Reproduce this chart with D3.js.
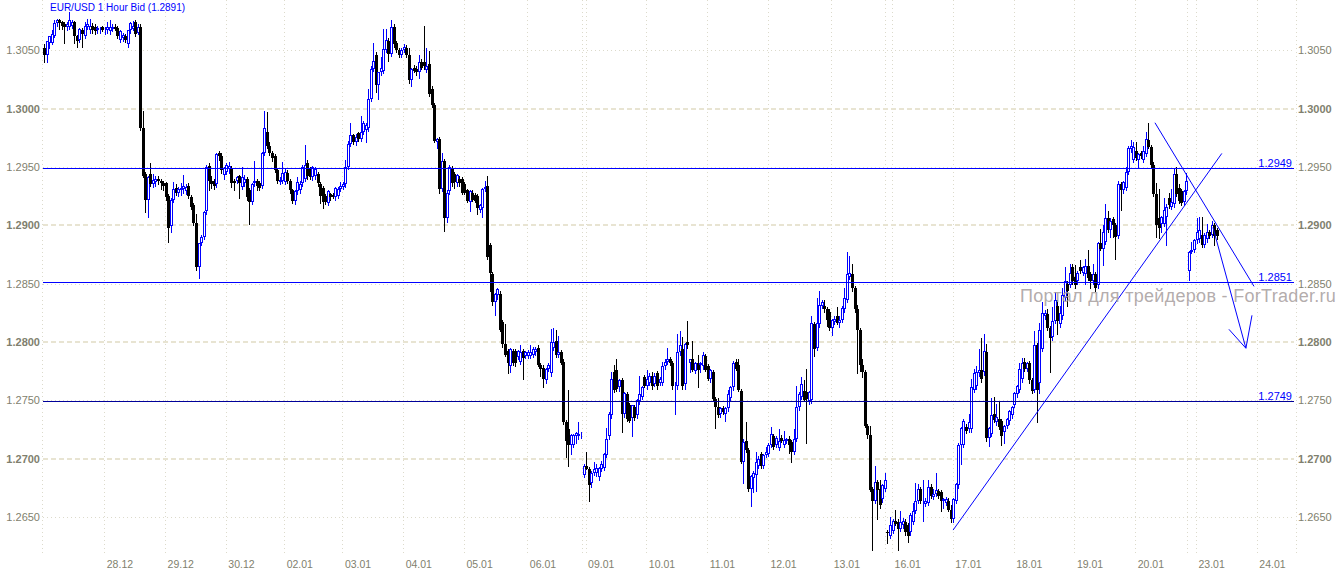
<!DOCTYPE html>
<meta charset="utf-8">
<script src="https://d3js.org/d3.v7.min.js"></script>
<style>
  body { margin: 0; background: #fff; }
  svg { display: block; font-family: "Liberation Sans", Arial, sans-serif; }
</style>
<div id="chart"></div>
<script>
// bar values are "open high low close" in pips above this base
const base = 1.2600;

// 27.12 - 30.12
const week1 = "452 455 440 446,446 458 440 458,456 462 452 462,456 467 455 464,462 476 461 473,473 477 471 476,476 477 468 473,474 475 468 471,472 474 456 470,470 474 467 472,470 483 468 476,471 476 469 474,474 475 456 462,462 463 453 458,459 469 457 468,467 469 453 464,462 474 460 471,470 477 468 472,467 477 465 471,471 473 465 467,470 472 464 466,467 471 465 469,467 470 465 468,470 471 466 467," +
  "467 470 464 468,467 474 465 470,466 476 464 470,468 472 466 470,470 472 467 468,469 471 460 462,459 467 457 466,460 465 458 463,462 464 457 459,455 467 453 467,467 474 465 473,468 475 467 471,474 476 462 464,465 472 464 470,470 472 382 383,383 398 341 342,344 346 311 322,322 342 307 341,344 353 334 335,335 344 333 339,337 342 334 340,340 342 335 338,338 340 331 336,336 338 330 334," +
  "336 337 322 324,325 327 286 298,299 323 294 322,322 337 320 331,332 335 326 328,328 333 325 331,330 336 326 332,331 343 328 334,329 335 327 333,334 336 323 325,324 326 314 316,317 319 300 302,302 310 262 264,264 285 255 285,285 292 283 290,290 312 288 311,312 352 310 350,351 353 330 338,338 342 332 335,338 340 331 334,335 362 333 361,362 364 356 359,359 362 345 347,343 350 340 349," +
  "346 353 344 352,348 354 345 351,349 351 333 336,338 340 330 336,338 342 336 341,342 343 323 336,333 350 331 341,336 343 334 340,340 341 322 324,330 332 301 320,320 336 318 335,336 355 334 338,338 340 330 334,336 338 330 332,334 363 332 362,362 398 360 383,380 397 366 368,368 371 360 362,362 364 355 358,359 361 346 347,347 349 336 338,337 341 335 339,338 354 336 345,337 348 335 346";

// 02.01 - 06.01
const week2 = "345 347 336 338,338 340 328 330,330 331 319 321,321 330 318 329,329 341 327 337,330 338 328 335,336 352 334 350,340 369 338 352,353 356 340 342,348 350 340 341,341 351 339 350,342 350 340 348,344 346 334 336,335 337 319 325,332 334 315 320,325 327 318 320,319 330 317 329,327 328 322 324,326 328 323 324,324 333 322 332,325 333 323 331,331 337 329 334,333 337 331 335,335 356 333 350," +
  "350 372 348 370,370 388 368 377,377 378 370 371,371 378 369 376,379 380 372 374,374 394 372 380,380 389 378 388,382 388 371 386,383 417 381 408,408 436 406 434,434 456 432 441,446 448 414 420,420 431 408 431,431 444 429 435,432 468 430 451,450 468 448 459,458 460 441 447,447 476 445 470,470 472 453 455,456 458 448 450,450 452 444 446,446 452 444 450,450 455 448 453,452 454 444 446," +
  "446 452 422 424,424 435 419 434,435 437 431 432,434 436 429 431,431 446 426 440,440 442 434 435,440 471 434 436,433 452 431 436,438 449 411 412,417 419 401 403,403 405 371 372,371 375 366 374,374 376 328 331,331 362 329 355,355 357 295 306,306 330 303 328,329 352 327 350,349 351 334 336,344 346 332 337,336 344 334 343,340 342 334 336,340 341 327 328,335 337 327 328,330 331 320 321," +
  "320 330 312 329,328 330 321 322,326 328 320 321,325 327 310 315,313 318 311 317,315 332 307 331,331 338 329 333,334 342 271 273,283 285 244 259,258 260 232 234,234 242 223 241,240 246 237 245,241 244 209 210,217 219 196 198,198 215 188 189,192 194 173 182,179 195 174 194,192 194 180 182,192 194 179 182,187 193 185 192,183 197 181 191,192 194 168 186,188 192 186 191,188 193 186 191," +
  "188 197 186 191,189 196 187 194,191 196 189 194,195 197 179 180,180 182 171 177,178 180 161 168,167 178 165 177,177 182 175 180,173 211 171 200,195 212 193 200,201 210 187 189,189 205 187 191,191 193 181 182,183 185 130 131,131 133 101 115,125 159 94 112,112 121 104 120,112 121 110 120,119 123 113 122,119 131 117 121,120 123 118 121";

// 09.01 - 13.01
const week3 = "86 95 84 94,94 106 91 91,91 93 64 77,79 89 76 88,88 97 86 91,88 95 85 92,84 93 82 92,91 98 89 95,92 105 90 104,103 126 101 117,119 140 117 138,137 174 135 168,174 180 157 159,176 185 158 160,161 168 158 167,167 169 123 138,138 157 136 156,155 157 132 134,146 148 131 132,135 146 119 146,144 146 133 135,137 151 135 150,149 171 147 155,153 162 151 161," +
  "170 172 161 162,162 176 160 168,165 173 163 171,171 174 160 162,164 173 162 171,173 175 160 162,165 170 163 168,165 183 163 179,179 185 177 183,183 195 181 185,185 187 180 182,182 184 160 162,162 166 138 163,162 207 160 191,191 209 189 197,194 204 160 162,164 199 160 198,200 218 195 197,182 185 174 185,185 201 175 176,175 183 173 182,182 189 161 176,180 183 174 182,179 191 177 189," +
  "188 190 175 176,179 181 167 168,168 177 166 176,174 176 149 151,151 153 126 144,144 152 136 137,138 144 136 143,143 145 138 140,138 144 132 143,143 159 141 155,152 162 150 161,161 184 159 182,183 185 176 177,180 185 158 159,158 160 96 97,97 117 79 114,115 131 106 107,107 109 72 74,74 86 59 85,83 89 71 88,86 106 72 97,94 102 92 100,104 106 92 94,94 104 92 103," +
  "103 110 101 106,104 113 102 112,112 127 110 121,119 121 108 110,112 119 110 118,109 125 107 115,118 120 114 115,112 124 110 116,115 118 113 117,117 119 105 112,114 116 97 106,106 125 104 117,117 162 115 144,144 157 142 155,153 170 151 164,158 167 149 150,157 177 113 151,149 158 147 157,150 222 148 216,215 217 188 194,195 238 193 216,215 244 213 232,231 236 229 234,231 236 226 228," +
  "228 230 214 219,226 228 210 212,212 220 206 219,217 222 215 220,222 230 215 216,216 222 213 219,219 231 217 229,228 246 226 238,236 277 234 258,256 274 254 259,258 267 244 246,246 248 226 228,228 232 173 210,210 212 175 180,180 185 170 174,174 176 127 128,128 130 118 120,120 128 72 73,74 76 22 64,64 94 62 80,80 82 48 73,74 82 58 60,65 78 63 77,74 88 72 82";

// 16.01 - 20.01
const week4 = "37 39 28 36,34 50 32 43,38 48 36 47,47 56 43 44,46 48 22 40,40 55 38 46,43 49 41 47,46 48 35 37,43 45 29 34,37 53 35 52,46 62 44 55,55 79 53 64,64 78 62 74,74 76 62 64,61 82 47 62,61 66 59 64,62 82 60 76,76 78 66 68,67 74 65 70,70 88 68 73,72 74 66 68,71 73 55 64,64 66 58 65,62 67 60 65," +
  "64 66 55 56,56 60 46 48,48 66 46 65,64 79 62 78,77 113 75 112,112 127 95 126,112 134 110 132,127 130 122 124,125 138 123 131,125 168 123 161,159 177 157 173,162 179 160 174,173 194 171 176,176 203 166 168,174 207 172 192,191 198 115 118,118 127 111 126,121 152 119 137,138 153 131 133,131 147 129 136,134 149 125 127,132 134 112 119,123 129 113 128,128 135 126 134," +
  "132 142 130 141,137 145 135 144,146 157 144 156,155 163 153 162,159 182 157 177,168 186 166 182,183 186 175 177,177 183 175 182,182 184 165 167,167 169 156 158,159 209 157 197,197 199 131 159,165 216 156 210,194 234 192 225,222 227 220 225,224 228 210 212,212 214 174 203,204 230 202 218,218 243 216 236,231 236 207 218,215 231 213 225,222 246 220 240,238 264 236 252,250 252 231 244," +
  "249 267 247 259,264 267 250 252,256 266 246 249,252 261 250 259,264 270 259 261,259 265 257 264,258 271 250 265,265 279 253 255,258 260 246 252,252 267 250 258,258 260 244 246,249 286 246 285,285 297 279 280,280 300 266 294,286 318 284 306,306 312 294 296,296 306 290 304,305 307 290 300,300 302 271 290,291 338 289 335,335 337 313 330,330 338 328 337,332 350 330 346,346 368 344 366," +
  "365 373 363 368,356 371 354 367,364 371 356 358,356 362 349 361,362 364 358 359,356 368 354 364,361 380 359 374,373 388 366 367,367 369 350 352,352 354 325 327,327 336 290 300,306 331 289 298,301 308 294 307,301 323 299 313,307 318 283 316,323 328 315 317,316 331 314 320,318 349 316 344,344 350 325 327,332 335 319 321,329 331 317 319,320 330 317 329,329 345 327 338";

// 23.01
const week5 = "261 278 253 277,277 286 276 279,279 288 277 287,287 306 285 294,288 307 286 296,292 307 281 283,283 293 281 292,288 301 286 294,294 296 289 291,292 304 290 300,300 302 283 291,296 298 288 291";

const dayLabels = ["28.12", "29.12", "30.12", "02.01", "03.01", "04.01", "05.01", "06.01", "09.01", "10.01",
  "11.01", "12.01", "13.01", "16.01", "17.01", "18.01", "19.01", "20.01", "23.01", "24.01"];
const dayStartBar = [24, 48, 72, 95, 118, 142, 166, 191, 214, 238, 262, 286, 311, 335, 359, 383, 407, 431, 455, 479];
const weekStartBar = [213, 333, 452];

const priceTicks = [1.2650, 1.2700, 1.2750, 1.2800, 1.2850, 1.2900, 1.2950, 1.3000, 1.3050];
const levels = [1.2949, 1.2851, 1.2749];

// hand drawn lines: [bar, price]
const upTrend = [[358.9, 1.26388], [465, 1.29615]];
const downTrend = [[438.6, 1.29878], [477.7, 1.28476]];
const arrowShaft = [[461.5, 1.28981], [474.5, 1.27946]];
const arrowHead = [[467.8, 1.28108], [474.5, 1.27946], [476.9, 1.28228]];

const title = "EUR/USD 1 Hour Bid (1.2891)";
const watermark = "Портал для трейдеров - ForTrader.ru";

const bars = [week1, week2, week3, week4, week5].flatMap(s => s.split(",")).map((t, i) => {
  const [o, h, l, c] = t.trim().split(" ").map(v => base + (+v) / 10000);
  return { i, o, h, l, c };
});

const W = 1337, H = 570;
const left = 43, right = 1294, bottom = 556;

const svg = d3.select("#chart").append("svg")
  .attr("width", W).attr("height", H);

const x = d3.scaleLinear().domain([0, 479]).range([44, 1257.3]);
const y = d3.scaleLinear().domain([1.2650, 1.3000]).range([517, 108.5]);
const px = v => Math.round(v) + 0.5;

// vertical grid
const vlines = [-0.4].concat(dayStartBar, weekStartBar.map(b => b - 0.6));
svg.append("g").selectAll("line").data(vlines).join("line")
  .attr("x1", d => px(x(d) - 0.5)).attr("x2", d => px(x(d) - 0.5))
  .attr("y1", 0).attr("y2", bottom)
  .attr("stroke", "#dcdacb").attr("stroke-dasharray", "1,3");
svg.append("line")
  .attr("x1", px(right + 2)).attr("x2", px(right + 2)).attr("y1", 0).attr("y2", bottom)
  .attr("stroke", "#dcdacb").attr("stroke-dasharray", "1,3");

// horizontal grid
const isMajor = p => Math.round(p * 10000) % 100 === 0;
const hg = svg.append("g");
hg.selectAll("line").data(priceTicks).join("line")
  .attr("x1", left).attr("x2", right)
  .attr("y1", d => isMajor(d) ? Math.round(y(d)) : px(y(d)))
  .attr("y2", d => isMajor(d) ? Math.round(y(d)) : px(y(d)))
  .attr("stroke", d => isMajor(d) ? "#e8e4d2" : "#dcdacb")
  .attr("stroke-width", d => isMajor(d) ? 2 : 1)
  .attr("stroke-dasharray", d => isMajor(d) ? "5,3" : "1,3");

// price labels on both sides
const fmt = d3.format(".4f");
[["start", right + 4], ["end", 40]].forEach(([anchor, tx]) => {
  svg.append("g").selectAll("text").data(priceTicks).join("text")
    .attr("x", tx).attr("y", d => y(d) + 4)
    .attr("text-anchor", anchor)
    .attr("font-size", 11)
    .attr("font-weight", d => isMajor(d) ? "bold" : "normal")
    .attr("fill", "#7f7f6e")
    .text(d => fmt(d));
});

// date labels
svg.append("g").selectAll("text").data(dayLabels).join("text")
  .attr("x", (d, k) => x(dayStartBar[k]) + 2)
  .attr("y", 568)
  .attr("font-size", 10.5)
  .attr("fill", "#7f7f6e")
  .text(d => d);

// candles
const cg = svg.append("g");
bars.forEach(b => {
  const cx = px(x(b.i));
  const up = b.c >= b.o;
  const col = up ? "#0000ff" : "#000000";
  cg.append("line")
    .attr("x1", cx).attr("x2", cx)
    .attr("y1", Math.round(y(b.h))).attr("y2", Math.round(y(b.l)) + 1)
    .attr("stroke", col);
  const top = Math.round(y(Math.max(b.o, b.c)));
  const bot = Math.round(y(Math.min(b.o, b.c)));
  if (up) {
    cg.append("rect")
      .attr("x", cx - 1).attr("width", 2)
      .attr("y", top + 0.5).attr("height", Math.max(bot - top - 1, 0))
      .attr("fill", "#fff").attr("stroke", col);
  } else {
    cg.append("rect")
      .attr("x", cx - 1.5).attr("width", 3)
      .attr("y", top).attr("height", Math.max(bot - top, 1))
      .attr("fill", col);
  }
});

// horizontal levels
const lv = svg.append("g");
levels.forEach((p, k) => {
  const ly = px(y(p));
  lv.append("line")
    .attr("x1", left).attr("x2", right).attr("y1", ly).attr("y2", ly)
    .attr("stroke", k === 2 ? "#00009a" : "#0000ff");
  lv.append("text")
    .attr("x", right - 2).attr("y", ly - 2)
    .attr("text-anchor", "end")
    .attr("font-size", 11)
    .attr("fill", "#0000ff")
    .text(fmt(p));
});

// trend lines and arrow
const line = d3.line().x(d => x(d[0])).y(d => y(d[1]));
[upTrend, downTrend, arrowShaft, arrowHead].forEach(pts => {
  svg.append("path").attr("d", line(pts))
    .attr("fill", "none").attr("stroke", "#0000ff").attr("stroke-width", 1);
});

// title
svg.append("text")
  .attr("x", 50).attr("y", 11)
  .attr("font-size", 10)
  .attr("fill", "#0000ff")
  .text(title);

// watermark
svg.append("text")
  .attr("x", 1020).attr("y", 302)
  .attr("font-size", 18)
  .attr("letter-spacing", 0.3)
  .attr("fill", "#aaa2a2")
  .attr("fill-opacity", 0.9)
  .text(watermark);
</script>
